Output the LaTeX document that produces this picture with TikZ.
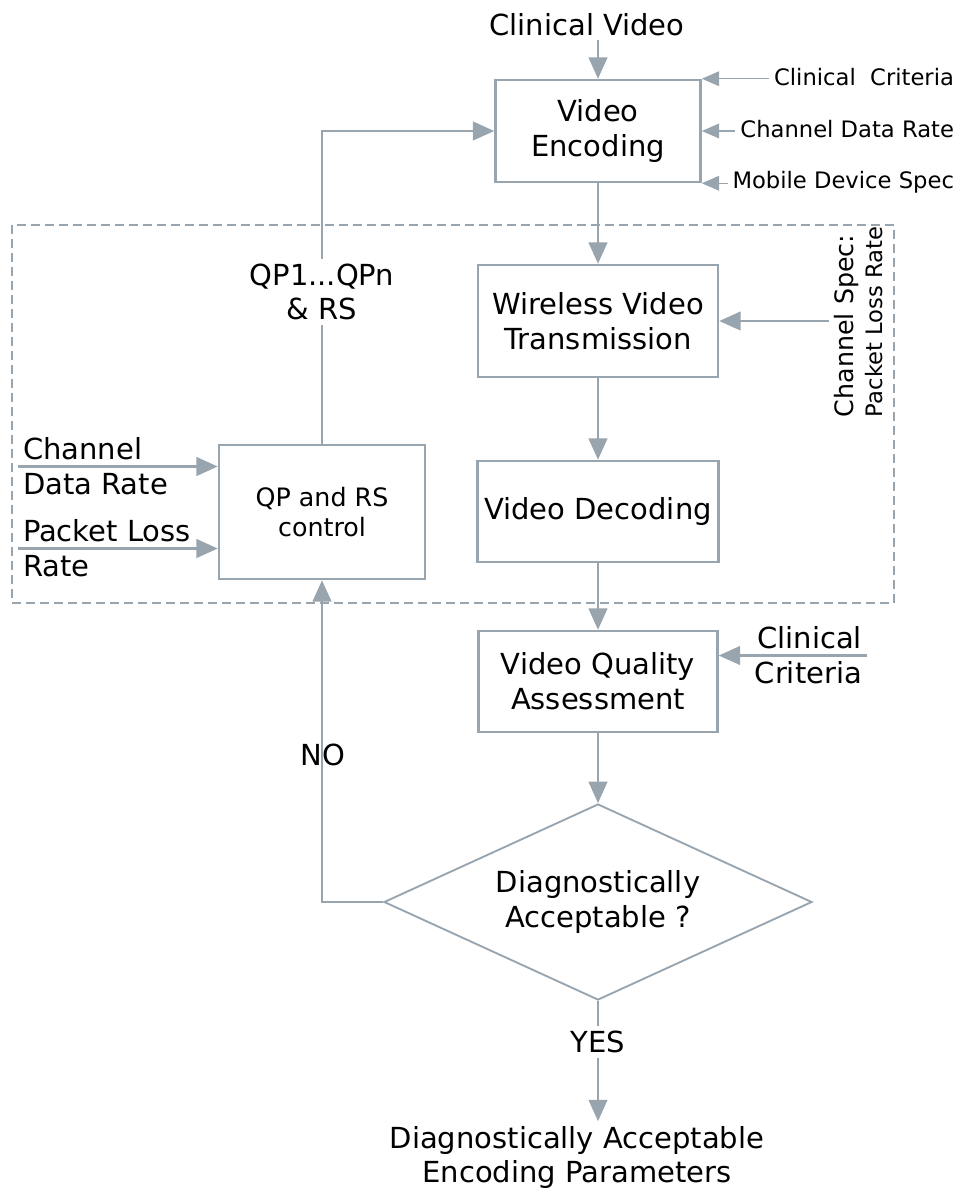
\documentclass[tikz,border=0pt]{standalone}
\usepackage{fontspec}
\setmainfont{DejaVu Sans}
\usepackage{tikz}
\usetikzlibrary{arrows.meta,shapes.geometric}

\definecolor{linegray}{RGB}{152,164,174}
\newcommand{\txtbig}{\fontsize{21.75pt}{26pt}\selectfont}
\newcommand{\txtmid}{\fontsize{19pt}{22.5pt}\selectfont}
\newcommand{\txtsmall}{\fontsize{17pt}{20pt}\selectfont}

\tikzset{
	block/.style={draw=linegray, line width=1.9pt, align=center, font=\txtbig, inner sep=0pt},
	lbl/.style={font=\txtbig, align=center, inner sep=3.75pt, outer sep=0pt},
	flow/.style={draw=linegray, line width=1.6pt, -{Triangle[length=16pt,width=14pt]}},
	thinflow/.style={draw=linegray, line width=1.1pt, -{Triangle[length=13pt,width=11pt]}},
	conn/.style={draw=linegray, line width=1.6pt},
}

\begin{document}
\begin{tikzpicture}[x=0.75pt,y=-0.75pt]
	\useasboundingbox (0,0) rectangle (959,1189);

	% dashed frame round the transmission loop
	\draw[linegray, line width=1.2pt, dash pattern=on 7pt off 3.5pt] (12,225) rectangle (894,603);

	\node[block, minimum width=153.75pt, minimum height=76.5pt] (enc) at (598,131) {Video\\Encoding};
	\node[block, minimum width=180pt, minimum height=84pt] (trans) at (598,321) {Wireless Video\\Transmission};
	\node[block, minimum width=180.75pt, minimum height=75.75pt] (dec) at (598,511.5) {Video Decoding};
	\node[block, minimum width=179.25pt, minimum height=75.75pt] (vqa) at (598,681.5) {Video Quality\\Assessment};
	\node[block, font=\txtmid, minimum width=154.5pt, minimum height=100.5pt] (qp) at (322,512) {QP and RS\\control};
	\node[block, diamond, aspect=2.18, line width=1.4pt, minimum width=321pt, minimum height=147pt] (acc) at (598,902) {Diagnostically\\Acceptable ?};

	\node[lbl, anchor=base] (cv) at (587,35) {Clinical Video};
	\node[lbl, font=\txtsmall, anchor=base east] (cc) at (959,85) {Clinical\ \ Criteria};
	\node[lbl, font=\txtsmall, anchor=base east] (cdr) at (959,137) {Channel Data Rate};
	\node[lbl, font=\txtsmall, anchor=base east] (mds) at (959,188) {Mobile Device Spec};
	\node[lbl, font=\txtmid, rotate=90, anchor=base west] (cs) at (853,422) {Channel Spec:};
	\node[lbl, font=\txtsmall, rotate=90, anchor=base west] (plr) at (882,422) {Packet Loss Rate};
	\node[lbl, align=left, anchor=west] (qpcdr) at (18,466.5) {Channel\\Data Rate};
	\node[lbl, align=left, anchor=west] (qpplr) at (18,548.5) {Packet Loss\\Rate};
	\node[lbl] (qplab) at (322,292) {QP1...QPn\\\& RS};
	\node[lbl, align=right, anchor=east] (crit) at (867,655.5) {Clinical\\Criteria};
	\node[lbl] (no) at (323,755) {NO};
	\node[lbl] (yes) at (598,1042) {YES};
	\node[lbl] (out) at (577,1157.5) {Diagnostically Acceptable\\Encoding Parameters};

	\draw
		(enc) edge[flow] (trans)
		(trans) edge[flow] (dec)
		(dec) edge[flow] (vqa)
		(vqa) edge[flow] (acc)
	;
	\draw[flow] (cv.south -| enc.north) -- (enc.north);
	\draw[thinflow] (cc.west |- enc.north) -- (enc.north east);
	\draw[thinflow] (cdr.west |- enc.east) -- (enc.east);
	\draw[thinflow] (mds.west |- enc.south) -- (enc.south east);
	\draw[flow] (cs.north |- trans.east) -- (trans.east);
	\draw[flow] (crit.east) -- (crit.east -| vqa.east);
	\draw[flow] (qpcdr.west) -- (qpcdr.west -| qp.west);
	\draw[flow] (qpplr.west) -- (qpplr.west -| qp.west);

	% feedback loop
	\draw[conn] (qp.north) -- (qplab.south);
	\draw[flow] (qplab.north) |- (enc.west);
	\draw[flow] (acc.west) -| (qp.south);
	\draw[conn] (acc.south) -- (yes.north);
	\draw[flow] (yes.south) -- (yes.south |- out.north);
\end{tikzpicture}
\end{document}
